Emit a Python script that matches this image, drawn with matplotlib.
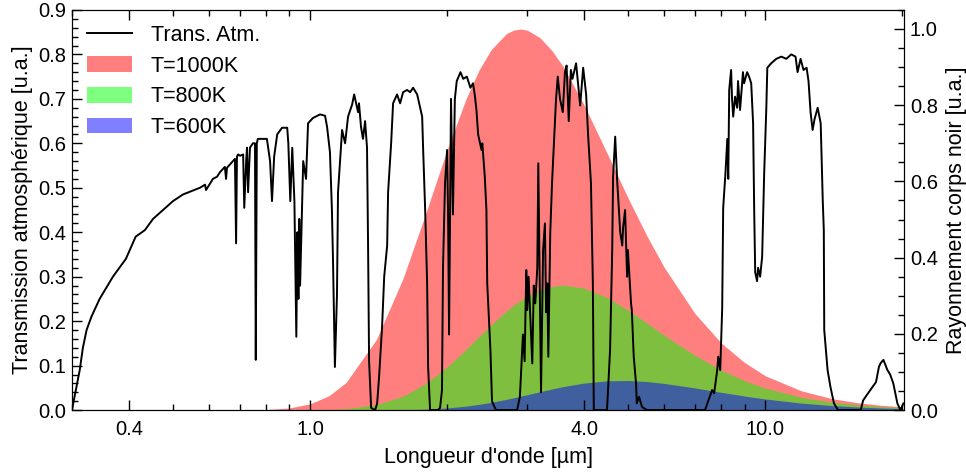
import matplotlib
matplotlib.use("Agg")
import matplotlib.pyplot as plt
from matplotlib.ticker import FixedLocator, FixedFormatter, LogLocator, MultipleLocator, NullFormatter
from matplotlib.patches import Patch
from matplotlib.lines import Line2D

plt.rcParams['font.family'] = ['Liberation Sans', 'DejaVu Sans']

# atmospheric transmission
atm_wl = [0.300, 0.312, 0.317, 0.323, 0.331, 0.345, 0.369, 0.394, 0.414, 0.434,
          0.452, 0.500, 0.526, 0.573, 0.588, 0.591, 0.612, 0.625, 0.634, 0.650,
          0.654, 0.657, 0.677, 0.684, 0.688, 0.691, 0.695, 0.702, 0.713, 0.717,
          0.724, 0.727, 0.731, 0.738, 0.749, 0.757, 0.760, 0.764, 0.768, 0.784,
          0.804, 0.817, 0.825, 0.834, 0.847, 0.868, 0.891, 0.896, 0.905, 0.914,
          0.924, 0.933, 0.938, 0.943, 0.947, 0.951, 0.966, 0.980, 0.990, 1.015,
          1.052, 1.079, 1.090, 1.106, 1.117, 1.123, 1.134, 1.146, 1.152, 1.164,
          1.176, 1.194, 1.212, 1.237, 1.250, 1.269, 1.275, 1.281, 1.294, 1.307,
          1.321, 1.334, 1.341, 1.348, 1.362, 1.390, 1.404, 1.418, 1.440, 1.455,
          1.477, 1.484, 1.507, 1.522, 1.553, 1.577, 1.601, 1.634, 1.659, 1.684,
          1.719, 1.745, 1.763, 1.772, 1.790, 1.808, 1.817, 1.835, 1.910, 1.930,
          1.949, 1.959, 1.979, 2.00, 2.01, 2.02, 2.04, 2.06, 2.08, 2.10,
          2.14, 2.17, 2.21, 2.25, 2.28, 2.30, 2.32, 2.34, 2.38, 2.39,
          2.42, 2.44, 2.45, 2.49, 2.51, 2.56, 2.85, 2.89, 2.935, 2.96,
          2.985, 3.00, 3.02, 3.046, 3.077, 3.10, 3.124, 3.156, 3.172, 3.216,
          3.25, 3.28, 3.30, 3.32, 3.337, 3.37, 3.40, 3.44, 3.47, 3.50,
          3.54, 3.59, 3.63, 3.66, 3.70, 3.74, 3.77, 3.84, 3.92, 3.98,
          4.04, 4.08, 4.14, 4.18, 4.20, 4.49, 4.56, 4.61, 4.63, 4.68,
          4.73, 4.75, 4.80, 4.85, 4.87, 4.92, 4.97, 4.99, 5.07, 5.09,
          5.14, 5.20, 5.22, 5.28, 5.36, 5.50, 7.37, 7.49, 7.64, 7.72,
          7.84, 7.88, 7.96, 8.04, 8.08, 8.17, 8.25, 8.29, 8.33, 8.41,
          8.45, 8.50, 8.58, 8.67, 8.71, 8.80, 8.93, 8.98, 9.12, 9.21,
          9.31, 9.40, 9.45, 9.50, 9.59, 9.64, 9.74, 9.84, 9.94, 10.05,
          10.10, 10.30, 10.57, 10.84, 11.12, 11.40, 11.65, 11.77, 11.95, 12.13,
          12.32, 12.44, 12.57, 12.70, 12.83, 13.03, 13.23, 13.37, 13.44, 13.47,
          13.70, 13.90, 14.15, 14.44, 16.20, 16.40, 17.00, 17.50, 17.76, 17.90,
          18.17, 18.54, 18.80, 19.10, 19.50, 19.80, 20.10]
atm_tr = [0.00, 0.09, 0.14, 0.18, 0.21, 0.25, 0.30, 0.34, 0.39, 0.405,
          0.43, 0.47, 0.485, 0.50, 0.507, 0.495, 0.52, 0.525, 0.535, 0.547,
          0.52, 0.545, 0.56, 0.565, 0.375, 0.57, 0.575, 0.572, 0.575, 0.455,
          0.56, 0.59, 0.49, 0.59, 0.60, 0.60, 0.113, 0.60, 0.61, 0.61,
          0.61, 0.56, 0.47, 0.57, 0.62, 0.635, 0.635, 0.60, 0.47, 0.59,
          0.47, 0.165, 0.40, 0.25, 0.43, 0.28, 0.56, 0.52, 0.645, 0.657,
          0.665, 0.662, 0.637, 0.58, 0.45, 0.34, 0.097, 0.26, 0.49, 0.56,
          0.63, 0.60, 0.66, 0.687, 0.71, 0.68, 0.67, 0.69, 0.637, 0.61,
          0.65, 0.59, 0.375, 0.11, 0.005, 0.00, 0.015, 0.075, 0.19, 0.30,
          0.37, 0.49, 0.60, 0.69, 0.71, 0.69, 0.715, 0.72, 0.715, 0.725,
          0.71, 0.68, 0.66, 0.585, 0.45, 0.285, 0.097, 0.00, 0.00, 0.005,
          0.045, 0.32, 0.51, 0.585, 0.44, 0.17, 0.70, 0.44, 0.70, 0.74,
          0.76, 0.745, 0.75, 0.725, 0.735, 0.71, 0.675, 0.62, 0.585, 0.60,
          0.525, 0.45, 0.285, 0.135, 0.02, 0.00, 0.00, 0.03, 0.17, 0.11,
          0.315, 0.225, 0.30, 0.21, 0.105, 0.28, 0.24, 0.32, 0.555, 0.04,
          0.36, 0.42, 0.22, 0.285, 0.12, 0.40, 0.51, 0.62, 0.70, 0.75,
          0.70, 0.67, 0.76, 0.775, 0.65, 0.765, 0.745, 0.78, 0.685, 0.77,
          0.71, 0.62, 0.51, 0.285, 0.00, 0.00, 0.135, 0.36, 0.525, 0.615,
          0.51, 0.48, 0.40, 0.37, 0.41, 0.45, 0.30, 0.36, 0.24, 0.225,
          0.12, 0.06, 0.015, 0.03, 0.007, 0.00, 0.00, 0.02, 0.045, 0.038,
          0.09, 0.12, 0.09, 0.23, 0.455, 0.53, 0.61, 0.52, 0.72, 0.765,
          0.70, 0.66, 0.705, 0.68, 0.74, 0.675, 0.76, 0.735, 0.76, 0.75,
          0.735, 0.645, 0.455, 0.31, 0.29, 0.32, 0.30, 0.345, 0.53, 0.68,
          0.77, 0.78, 0.79, 0.795, 0.79, 0.80, 0.795, 0.76, 0.79, 0.765,
          0.77, 0.74, 0.67, 0.63, 0.655, 0.68, 0.645, 0.47, 0.405, 0.18,
          0.09, 0.052, 0.015, 0.00, 0.00, 0.022, 0.045, 0.063, 0.097, 0.105,
          0.113, 0.09, 0.08, 0.06, 0.015, 0.00, 0.015]

# blackbody emission, normalised to the 1000K peak
bb_wl = [0.7, 0.8, 0.9, 1.0, 1.1, 1.2, 1.4, 1.6, 1.8, 2.0, 2.2, 2.35, 2.5, 2.7, 2.8,
         2.9, 3.0, 3.2, 3.4, 3.6, 4.0, 4.5, 5.0, 5.5, 6.0, 7.0, 8.0, 9.0, 10.0,
         12.0, 14.0, 16.0, 18.0, 20.0]
bb_1000 = [0.0002, 0.0014, 0.0056, 0.0164, 0.0376, 0.0726, 0.186, 0.345, 0.520, 0.683,
           0.816, 0.892, 0.946, 0.988, 0.997, 1.0, 0.997, 0.977, 0.943, 0.901,
           0.800, 0.672, 0.555, 0.456, 0.374, 0.254, 0.176, 0.125, 0.090,
           0.0505, 0.0301, 0.0190, 0.0126, 0.0086]
bb_800 = [0.0, 0.0, 0.0001, 0.00045, 0.0014, 0.0036, 0.0143, 0.0364, 0.0704, 0.113,
          0.159, 0.193, 0.224, 0.260, 0.275, 0.288, 0.299, 0.315, 0.324, 0.328,
          0.320, 0.295, 0.262, 0.228, 0.196, 0.144, 0.105, 0.0773, 0.0577,
          0.0336, 0.0207, 0.0134, 0.0090, 0.0062]
bb_600 = [0.0, 0.0, 0.0, 0.0, 0.0, 0.00002, 0.0002, 0.00086, 0.0025, 0.0056,
          0.0104, 0.0151, 0.0203, 0.0282, 0.0323, 0.0364, 0.0404, 0.0483, 0.0554, 0.0617,
          0.0709, 0.0768, 0.0776, 0.0748, 0.0700, 0.0582, 0.0466, 0.0369, 0.0291,
          0.0183, 0.0119, 0.0080, 0.0055, 0.0039]

x_ticks = [0.4, 1.0, 4.0, 10.0]
x_ticklabels = ['0.4', '1.0', '4.0', '10.0']

fig = plt.figure(figsize=(9.66, 4.73), dpi=100)
ax = fig.add_axes([0.0745, 0.133, 0.8617, 0.846])
ax2 = ax.twinx()

ax2.fill_between(bb_wl, 0, bb_1000, color='red', alpha=0.5, lw=0)
ax2.fill_between(bb_wl, 0, bb_800, color='lime', alpha=0.5, lw=0)
ax2.fill_between(bb_wl, 0, bb_600, color='blue', alpha=0.5, lw=0)

ax.plot(atm_wl, atm_tr, color='black', lw=1.4)

ax.set_zorder(ax2.get_zorder() + 1)
ax.patch.set_visible(False)

ax.set_xscale('log')
ax.set_xlim(0.3, 20.2)
ax.set_ylim(0, 0.9)
ax2.set_ylim(0, 1.05)

ax.xaxis.set_major_locator(FixedLocator(x_ticks))
ax.xaxis.set_major_formatter(FixedFormatter(x_ticklabels))
ax.xaxis.set_minor_locator(LogLocator(base=10, subs=range(1, 10)))
ax.xaxis.set_minor_formatter(NullFormatter())
ax.yaxis.set_major_locator(MultipleLocator(0.1))
ax.yaxis.set_minor_locator(MultipleLocator(0.02))
ax.yaxis.set_major_formatter(plt.FormatStrFormatter('%.1f'))
ax2.yaxis.set_major_locator(MultipleLocator(0.2))
ax2.yaxis.set_minor_locator(MultipleLocator(0.05))
ax2.yaxis.set_major_formatter(plt.FormatStrFormatter('%.1f'))

ax.tick_params(axis='x', which='both', direction='in', top=True, labelsize=14.5)
ax.tick_params(axis='y', which='both', direction='in', right=False, labelsize=14.5)
ax2.tick_params(axis='y', which='both', direction='in', labelsize=14.5)
for a in (ax, ax2):
    a.tick_params(which='major', length=7, width=1, pad=4)
    a.tick_params(which='minor', length=4, width=1)
ax.tick_params(axis='x', which='both', pad=7)

ax.set_xlabel("Longueur d'onde [µm]", fontsize=15.5, labelpad=6)
ax.set_ylabel("Transmission atmosphérique [u.a.]", fontsize=15.5, labelpad=4)
ax2.set_ylabel("Rayonnement corps noir [u.a.]", fontsize=15.5, labelpad=6)

handles = [Line2D([], [], color='black', lw=1.4),
           Patch(color='red', alpha=0.5, lw=0),
           Patch(color='lime', alpha=0.5, lw=0),
           Patch(color='blue', alpha=0.5, lw=0)]
labels = ['Trans. Atm.', 'T=1000K', 'T=800K', 'T=600K']
ax.legend(handles, labels, loc='upper left', frameon=False, fontsize=15.5,
          handlelength=2.1, handleheight=0.75, handletextpad=0.85, labelspacing=0.45,
          borderaxespad=0.4, borderpad=0.3)

fig.savefig('out.png', dpi=100)
